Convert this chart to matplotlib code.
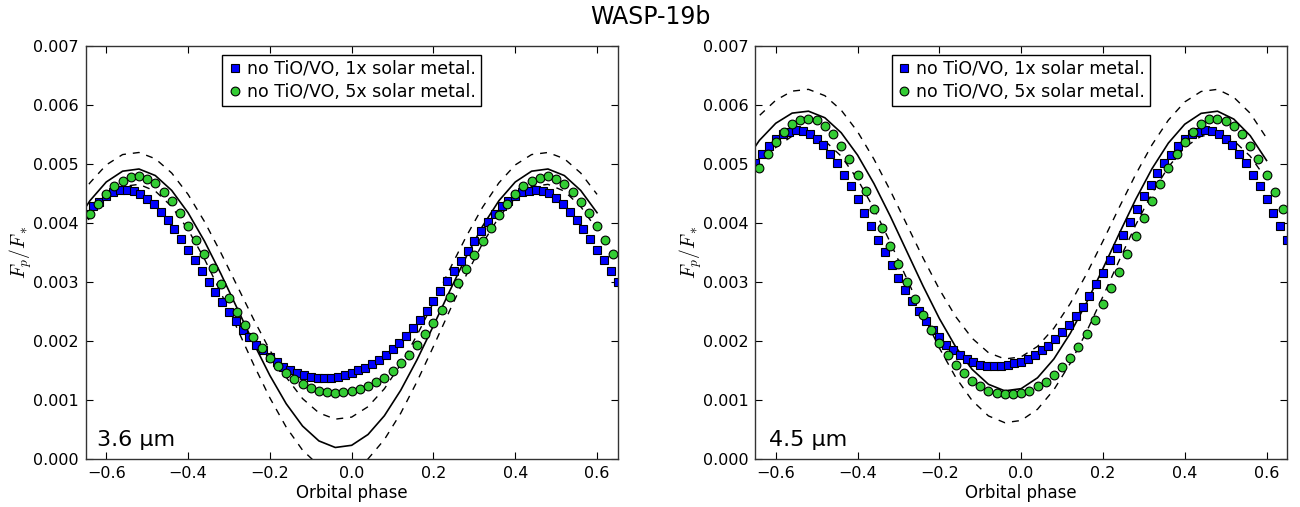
"""WASP-19b phase curves at 3.6 and 4.5 micron
"""
import numpy as np
import matplotlib as mpl
import matplotlib.pyplot as plt

mpl.rcParams['font.family'] = 'DejaVu Sans'
mpl.rcParams['mathtext.fontset'] = 'cm'
mpl.rcParams['xtick.labelsize'] = 11.5
mpl.rcParams['ytick.labelsize'] = 11.5

# values below are in units of 1e-3 (Fp/F*)
# blue squares: phase -0.65 .. 0.65 in steps of 1/60
blue_36 = [4.16, 4.28, 4.36, 4.46, 4.52, 4.56, 4.56, 4.54, 4.49, 4.41,
           4.32, 4.19, 4.05, 3.90, 3.73, 3.55, 3.37, 3.19, 3.00, 2.83,
           2.66, 2.49, 2.34, 2.19, 2.06, 1.94, 1.84, 1.73, 1.65, 1.56,
           1.51, 1.46, 1.42, 1.39, 1.38, 1.37, 1.37, 1.39, 1.42, 1.45,
           1.50, 1.55, 1.61, 1.68, 1.77, 1.86, 1.97, 2.09, 2.22, 2.36,
           2.51, 2.68, 2.85, 3.02, 3.19, 3.36, 3.53, 3.70, 3.86, 4.01,
           4.15, 4.28, 4.38, 4.46, 4.52, 4.55, 4.56, 4.54, 4.50, 4.42,
           4.32, 4.19, 4.05, 3.90, 3.73, 3.55, 3.37, 3.19, 3.00]
blue_45 = [5.01, 5.17, 5.31, 5.42, 5.50, 5.55, 5.57, 5.56, 5.51, 5.43,
           5.32, 5.17, 5.01, 4.82, 4.62, 4.40, 4.17, 3.95, 3.72, 3.50,
           3.28, 3.07, 2.86, 2.68, 2.50, 2.34, 2.19, 2.06, 1.94, 1.85,
           1.76, 1.69, 1.64, 1.60, 1.58, 1.58, 1.58, 1.59, 1.62, 1.65,
           1.70, 1.76, 1.84, 1.92, 2.03, 2.15, 2.27, 2.42, 2.58, 2.76,
           2.96, 3.16, 3.37, 3.58, 3.80, 4.02, 4.23, 4.45, 4.64, 4.84,
           5.02, 5.16, 5.31, 5.42, 5.50, 5.55, 5.57, 5.56, 5.51, 5.43,
           5.32, 5.17, 5.01, 4.82, 4.62, 4.40, 4.17, 3.95, 3.72]

# green circles: phase -0.64 .. 0.64 in steps of 0.02
green_36 = [4.15, 4.33, 4.49, 4.63, 4.72, 4.78, 4.79, 4.75, 4.67, 4.53,
            4.37, 4.17, 3.95, 3.72, 3.47, 3.23, 2.97, 2.73, 2.49, 2.27,
            2.07, 1.88, 1.72, 1.57, 1.45, 1.35, 1.27, 1.20, 1.16, 1.14,
            1.12, 1.13, 1.15, 1.19, 1.23, 1.30, 1.38, 1.49, 1.62, 1.76,
            1.93, 2.11, 2.31, 2.52, 2.75, 2.98, 3.22, 3.46, 3.70, 3.92,
            4.14, 4.32, 4.49, 4.62, 4.72, 4.77, 4.79, 4.75, 4.66, 4.53,
            4.36, 4.17, 3.95, 3.72, 3.47]
green_45 = [4.93, 5.17, 5.37, 5.55, 5.67, 5.75, 5.77, 5.74, 5.64, 5.50,
            5.31, 5.08, 4.82, 4.54, 4.24, 3.92, 3.61, 3.30, 3.00, 2.71,
            2.44, 2.19, 1.96, 1.76, 1.59, 1.45, 1.32, 1.23, 1.16, 1.12,
            1.10, 1.10, 1.12, 1.16, 1.23, 1.31, 1.42, 1.56, 1.72, 1.90,
            2.11, 2.35, 2.62, 2.89, 3.17, 3.47, 3.78, 4.08, 4.38, 4.66,
            4.93, 5.17, 5.37, 5.54, 5.67, 5.76, 5.77, 5.73, 5.64, 5.50,
            5.31, 5.08, 4.81, 4.53, 4.24]

# observed fit (solid) and 1-sigma envelope (dashed): phase -0.68 .. 0.60, step 0.04
fit_36 = [3.945, 4.377, 4.695, 4.878, 4.915, 4.804, 4.552, 4.174, 3.694, 3.143,
          2.555, 1.967, 1.416, 0.936, 0.558, 0.306, 0.195, 0.232, 0.415, 0.733,
          1.165, 1.684, 2.259, 2.851, 3.426, 3.945, 4.377, 4.695, 4.878, 4.915,
          4.804, 4.552, 4.174]
hi_36 = [4.266, 4.680, 4.984, 5.160, 5.195, 5.089, 4.847, 4.485, 4.026, 3.498,
         2.935, 2.372, 1.844, 1.385, 1.023, 0.781, 0.675, 0.710, 0.886, 1.190,
         1.604, 2.101, 2.651, 3.219, 3.769, 4.266, 4.680, 4.984, 5.160, 5.195,
         5.089, 4.847, 4.485]
lo_36 = [3.652, 4.099, 4.427, 4.617, 4.655, 4.540, 4.279, 3.888, 3.392, 2.822,
         2.214, 1.606, 1.036, 0.540, 0.149, -0.112, -0.227, -0.189, 0.001, 0.329,
         0.776, 1.314, 1.908, 2.520, 3.114, 3.652, 4.099, 4.427, 4.617, 4.655,
         4.540, 4.279, 3.888]
fit_45 = [4.990, 5.400, 5.690, 5.862, 5.895, 5.784, 5.530, 5.151, 4.669, 4.116,
          3.525, 2.934, 2.381, 1.899, 1.520, 1.266, 1.155, 1.192, 1.376, 1.695,
          2.129, 2.651, 3.227, 3.823, 4.399, 4.921, 5.355, 5.674, 5.858, 5.895,
          5.760, 5.480, 5.060]
hi_45 = [5.450, 5.820, 6.080, 6.235, 6.265, 6.158, 5.913, 5.548, 5.083, 4.550,
         3.980, 3.410, 2.877, 2.412, 2.047, 1.802, 1.695, 1.731, 1.908, 2.216,
         2.634, 3.137, 3.693, 4.267, 4.823, 5.326, 5.744, 6.052, 6.229, 6.265,
         6.130, 5.860, 5.440]
lo_45 = [4.503, 4.951, 5.281, 5.471, 5.509, 5.394, 5.132, 4.740, 4.243, 3.672,
         3.062, 2.452, 1.881, 1.384, 0.992, 0.730, 0.615, 0.653, 0.843, 1.173,
         1.621, 2.159, 2.755, 3.369, 3.965, 4.503, 4.951, 5.281, 5.471, 5.509,
         5.394, 5.132, 4.740]

blue_phase = np.linspace(-0.65, 0.65, 79)
green_phase = np.linspace(-0.64, 0.64, 65)
fit_phase = np.linspace(-0.68, 0.60, 33)

labels = ['no TiO/VO, 1x solar metal.', 'no TiO/VO, 5x solar metal.']
bands = ['3.6 \u00b5m', '4.5 \u00b5m']


def plot_panel(ax, blue, green, fit, hi, lo, band, band_x):
    scale = 1e-3
    ax.plot(fit_phase, np.array(fit) * scale, color='k', lw=1.2)
    ax.plot(fit_phase, np.array(hi) * scale, color='k', lw=1.0, dashes=(5, 5))
    ax.plot(fit_phase, np.array(lo) * scale, color='k', lw=1.0, dashes=(5, 5))
    ax.plot(blue_phase, np.array(blue) * scale, 's', color='#0000ff',
            mec='k', mew=0.8, ms=6.0, label=labels[0])
    ax.plot(green_phase, np.array(green) * scale, 'o', color='#33cc33',
            mec='k', mew=0.8, ms=6.3, label=labels[1])

    ax.set_xlim(-0.65, 0.65)
    ax.set_ylim(0.0, 0.007)
    ax.set_xticks([-0.6, -0.4, -0.2, 0.0, 0.2, 0.4, 0.6])
    ax.set_xticklabels(['\u22120.6', '\u22120.4', '\u22120.2', '0.0', '0.2', '0.4', '0.6'])
    ax.set_yticks(np.arange(0, 8) * 0.001)
    ax.set_yticklabels(['%.3f' % (v * 0.001) for v in range(8)])
    ax.tick_params(direction='in', top=True, right=True, length=5, width=0.8, pad=5)
    for s in ax.spines.values():
        s.set_linewidth(1.0)
        s.set_color('#333333')

    ax.set_xlabel('Orbital phase', fontsize=12, labelpad=2)
    ax.set_ylabel(r'$F_p/F_*$', fontsize=14)
    ax.yaxis.set_label_coords(-0.097, 0.5)
    ax.text(band_x, 0.0315, band, transform=ax.transAxes, fontsize=16,
            va='baseline', ha='left')

    leg = ax.legend(loc='upper center', numpoints=1, fontsize=12.5, fancybox=False,
                    borderpad=0.3, handlelength=0.8, handletextpad=0.3,
                    labelspacing=0.3, borderaxespad=0.5, framealpha=1.0)
    leg.get_frame().set_edgecolor('k')
    leg.get_frame().set_linewidth(1.0)


def main():
    fig = plt.figure(figsize=(13, 5.07), dpi=100)
    ax1 = fig.add_axes([0.066, 0.0947, 0.409, 0.8146])
    ax2 = fig.add_axes([0.581, 0.0947, 0.409, 0.8146])

    plot_panel(ax1, blue_36, green_36, fit_36, hi_36, lo_36, bands[0], 0.021)
    plot_panel(ax2, blue_45, green_45, fit_45, hi_45, lo_45, bands[1], 0.026)

    fig.text(0.5, 0.966, 'WASP-19b', ha='center', va='center', fontsize=17)
    plt.savefig('out.png', dpi=100)
    plt.close()


if __name__ == '__main__':
    main()
